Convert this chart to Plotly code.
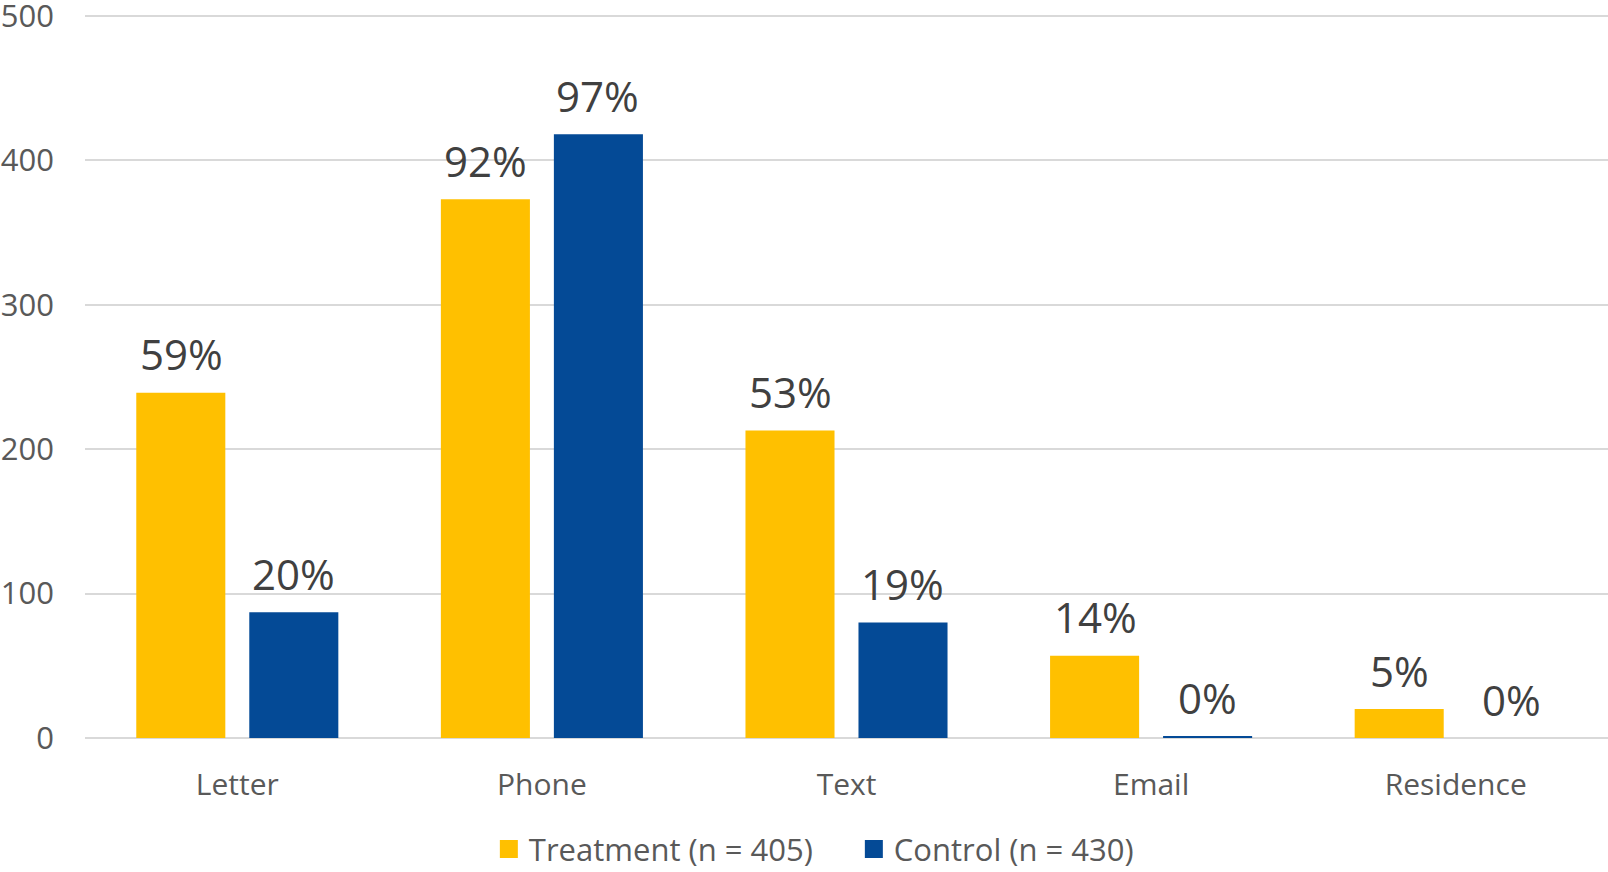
import plotly.graph_objects as go

categories = ["Letter", "Phone", "Text", "Email", "Residence"]
treatment_values = [239, 373, 213, 57, 20]
control_values = [87, 418, 80, 0.7, 0]
treatment_labels = ["59%", "92%", "53%", "14%", "5%"]
control_labels = ["20%", "97%", "19%", "0%", "0%"]
y_ticks = [0, 100, 200, 300, 400, 500]

FONT = "Open Sans"
GOLD = "#FFC000"
BLUE = "#044A96"

fig = go.Figure()
fig.add_trace(go.Bar(
    x=categories, y=treatment_values, name="Treatment (n = 405)",
    marker=dict(color=GOLD, line=dict(width=0)), showlegend=False,
))
fig.add_trace(go.Bar(
    x=categories, y=control_values, name="Control (n = 430)",
    marker=dict(color=BLUE, line=dict(width=0)), showlegend=False,
))
# legend entries with larger square swatches
for name, col in [("Treatment (n = 405)", GOLD), ("Control (n = 430)", BLUE)]:
    fig.add_trace(go.Scatter(
        x=[None], y=[None], mode="markers", name=name,
        marker=dict(symbol="square", size=20, color=col,
                    line=dict(width=2, color=col)),
    ))

# data labels above bars
for cat, v, lab in zip(categories, treatment_values, treatment_labels):
    fig.add_annotation(x=cat, y=v, text=lab, showarrow=False, xshift=-56,
                       yshift=39, yanchor="middle",
                       font=dict(size=42, color="#404040", family=FONT))
for cat, v, lab in zip(categories, control_values, control_labels):
    fig.add_annotation(x=cat, y=v, text=lab, showarrow=False, xshift=56,
                       yshift=39, yanchor="middle",
                       font=dict(size=42, color="#404040", family=FONT))

fig.update_layout(
    width=1608, height=872,
    margin=dict(l=85, r=0, t=13, b=134, autoexpand=False),
    paper_bgcolor="white", plot_bgcolor="white",
    barmode="group", bargap=0.258, bargroupgap=0.212,
    font=dict(family=FONT, color="#595959", size=30),
    showlegend=True,
    legend=dict(
        orientation="h", xref="container", yref="container",
        x=0.531, xanchor="center", y=0.026, yanchor="middle",
        font=dict(size=31, color="#595959", family=FONT),
        traceorder="normal", itemsizing="trace",
        entrywidth=320, entrywidthmode="pixels",
    ),
)
fig.update_xaxes(
    showgrid=False, showline=False, zeroline=False, automargin=False,
    tickfont=dict(size=30, color="#595959", family=FONT),
    ticklabelstandoff=26,
)
fig.update_yaxes(
    range=[0, 502], tickvals=y_ticks, automargin=False,
    showgrid=True, gridcolor="#D9D9D9", gridwidth=1.5,
    zeroline=True, zerolinecolor="#D9D9D9", zerolinewidth=2,
    showline=False, ticklabeloverflow="allow",
    tickfont=dict(size=31, color="#595959", family=FONT),
    ticklabelstandoff=30,
)

fig.write_html("out.html")
